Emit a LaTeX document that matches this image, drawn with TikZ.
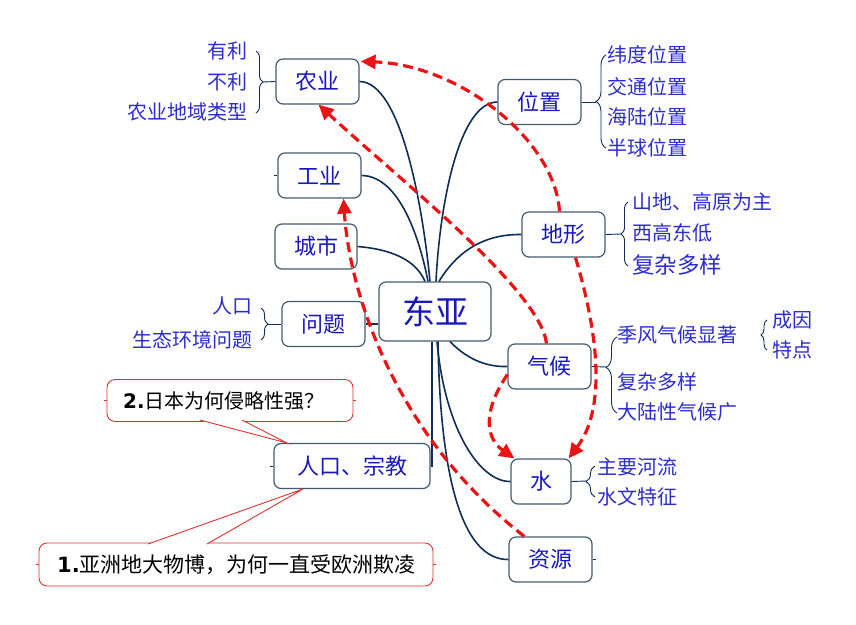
\documentclass[tikz,border=0pt]{standalone}
\usepackage{fontspec}
\setmainfont{Noto Sans CJK SC}
\newfontfamily\numfont{DejaVu Sans}
\usetikzlibrary{arrows.meta,decorations.pathreplacing}
\definecolor{nodeblue}{RGB}{25,25,185}
\definecolor{subblue}{RGB}{45,45,205}
\definecolor{boxline}{RGB}{70,90,110}
\definecolor{conn}{RGB}{15,45,85}
\definecolor{redd}{RGB}{235,20,20}
\definecolor{callred}{RGB}{220,50,50}
\tikzset{
  box/.style={draw=boxline, line width=1.2pt, rounded corners=7pt, fill=white, text=nodeblue,
    font=\fontsize{22}{22}\selectfont, inner sep=0pt, minimum height=45pt},
  sub/.style={text=subblue, font=\fontsize{20}{20}\selectfont, inner sep=0pt},
  subbig/.style={text=subblue, font=\fontsize{22.5}{22.5}\selectfont, inner sep=0pt},
  conn/.style={draw=conn, line width=1.6pt},
  bracel/.style={draw=conn, line width=0.9pt, decorate, decoration={brace, amplitude=#1}},
  tick/.style={draw=conn, line width=0.9pt},
  redarrow/.style={draw=redd, line width=3.2pt, dash pattern=on 10pt off 5.5pt,
    -{Triangle[length=15pt,width=14pt]}},
  callout/.style={draw=callred, line width=0.9pt, rounded corners=8pt, fill=white},
  calltext/.style={text=black, font=\fontsize{20}{20}\selectfont, inner sep=0pt, anchor=west},
}
\begin{document}
\begin{tikzpicture}[x=1pt,y=-1pt]
\useasboundingbox (0,0) rectangle (856,624);

% main nodes
\node[box, minimum width=83pt] (nongye) at (317.5,81.5) {农业};
\node[box, minimum width=83pt] (gongye) at (319.5,175.5) {工业};
\node[box, minimum width=82pt] (chengshi) at (316,246.5) {城市};
\node[box, minimum width=83pt] (wenti) at (323.5,324) {问题};
\node[box, minimum width=112pt, minimum height=59pt, font=\fontsize{33}{33}\selectfont] (dongya) at (435,311.5) {东亚};
\node[box, minimum width=156pt] (renkou) at (352,466) {人口、宗教};
\node[box, minimum width=83pt] (weizhi) at (539.5,102) {位置};
\node[box, minimum width=83pt] (dixing) at (563.5,234.5) {地形};
\node[box, minimum width=83pt] (qihou) at (549.5,366.5) {气候};
\node[box, minimum width=60pt] (shui) at (541,481.5) {水};
\node[box, minimum width=83pt] (ziyuan) at (550.5,559.5) {资源};

% connectors from 东亚
\draw[conn] (nongye.east) .. controls (400,82) and (422,200) .. ([xshift=-5pt]dongya.north);
\draw[conn] (gongye.east) .. controls (400,176) and (420,240) .. ([xshift=-7pt]dongya.north);
\draw[conn] (chengshi.east) .. controls (400,250) and (418,265) .. ([xshift=-10pt]dongya.north);
\draw[conn] (weizhi.west) .. controls (460,102) and (440,200) .. ([xshift=1pt]dongya.north);
\draw[conn] (dixing.west) .. controls (480,234) and (455,255) .. ([xshift=4pt]dongya.north);
\draw[conn] (wenti.east) -- (dongya.west |- wenti.east);
\draw[conn] ([xshift=15pt]dongya.south) .. controls (470,362) and (490,367) .. (qihou.west);
\draw[conn] ([xshift=2pt]dongya.south) .. controls (445,430) and (480,482) .. (shui.west);
\draw[conn] ([xshift=3pt]dongya.south) .. controls (440,470) and (460,560) .. (ziyuan.west);
\draw[conn] ([xshift=-3pt]dongya.south) -- ([xshift=-3pt]dongya.south |- renkou.east) -- (renkou.east);

% tiny ticks
\draw[tick] (gongye.west) -- ++(-3,0);
\draw[tick] (renkou.west) -- ++(-3,0);
\draw[tick] (ziyuan.east) -- ++(3,0);

% sub labels
\node[sub, anchor=east] (youli) at (248,51) {有利};
\node[sub, anchor=east] (buli) at (248,82) {不利};
\node[sub, anchor=east] (nydy) at (248,112) {农业地域类型};
\node[sub, anchor=east] (rk) at (253,306) {人口};
\node[sub, anchor=east] (sthj) at (253,340) {生态环境问题};
\node[sub, anchor=west] (w1) at (607,55) {纬度位置};
\node[sub, anchor=west] (w2) at (607,87) {交通位置};
\node[sub, anchor=west] (w3) at (607,117) {海陆位置};
\node[sub, anchor=west] (w4) at (607,148) {半球位置};
\node[sub, anchor=west] (d1) at (632,202) {山地、高原为主};
\node[sub, anchor=west] (d2) at (632,233) {西高东低};
\node[subbig, anchor=west] (d3) at (632,265) {复杂多样};
\node[sub, anchor=west] (q1) at (617,335) {季风气候显著};
\node[sub, anchor=west] (q2) at (617,382) {复杂多样};
\node[sub, anchor=west] (q3) at (617,412) {大陆性气候广};
\node[sub, anchor=west] (cy) at (772,320) {成因};
\node[sub, anchor=west] (td) at (772,350) {特点};
\node[sub, anchor=west] (s1) at (597,467) {主要河流};
\node[sub, anchor=west] (s2) at (597,497) {水文特征};

% braces
\draw[bracel=7pt] (256,51) -- (256,113);
\draw[conn, line width=0.9pt] (263,82) -- (nongye.west);
\draw[bracel=7pt] (261,308) -- (261,340);
\draw[conn, line width=0.9pt] (268,324) -- (wenti.west);
\draw[bracel=10pt] (606,148) -- (606,55);
\draw[conn, line width=0.9pt] (weizhi.east) -- (596,102);
\draw[bracel=7pt] (628,266) -- (628,202);
\draw[conn, line width=0.9pt] (dixing.east) -- (621,234);
\draw[draw=conn, line width=0.9pt, decorate, decoration={brace, amplitude=11pt, aspect=0.6}] (617,413) -- (617,337);
\draw[conn, line width=0.9pt] (qihou.east) -- (606,367);
\draw[bracel=6pt] (767,350) -- (767,320);
\draw[bracel=9pt] (595,497) -- (595,466);
\draw[conn, line width=0.9pt] (shui.east) -- (586,481);

% red dashed arrows
\draw[redarrow] ([xshift=-4pt]dixing.north) .. controls (555,140) and (460,65) .. ([xshift=1pt,yshift=-3pt]nongye.north east);
\draw[redarrow] ([xshift=-3pt]qihou.north) .. controls (540,290) and (400,180) .. ([xshift=1pt]nongye.south);
\draw[redarrow] ([xshift=12pt]dixing.south) .. controls (600,340) and (605,410) .. ([xshift=-3pt]shui.north east);
\draw[redarrow] ([yshift=-8pt]qihou.west) .. controls (480,415) and (488,440) .. ([xshift=4pt]shui.north west);
\draw[redarrow] ([xshift=16pt]ziyuan.north west) .. controls (400,440) and (350,300) .. ([xshift=24pt]gongye.south);

% callout 2
\node[callout, minimum width=246pt, minimum height=42pt, inner sep=0pt] (c2) at (230,400.5) {};
\coordinate (c2a) at (200,420);
\coordinate (c2b) at (242,420);
\coordinate (c2t) at (287,443);
\fill[white] (c2a) -- (c2t) -- (c2b) -- cycle;
\draw[callred, line width=0.9pt] (c2a) -- (c2t) -- (c2b);
\draw[callred, line width=0.9pt] (c2.west) -- ++(-3,0);
\draw[callred, line width=0.9pt] (c2.east) -- ++(3,0);
\node[calltext] (t2) at (123,401) {{\numfont\bfseries 2.}日本为何侵略性强？};

% callout 1
\node[callout, minimum width=394pt, minimum height=43pt, inner sep=0pt] (c1) at (236,564.5) {};
\coordinate (c1a) at (148,544);
\coordinate (c1b) at (207,544);
\coordinate (c1t) at (303,489);
\fill[white] (c1a) -- (c1t) -- (c1b) -- cycle;
\draw[callred, line width=0.9pt] (c1a) -- (c1t) -- (c1b);
\draw[callred, line width=0.9pt] (c1.west) -- ++(-3,0);
\draw[callred, line width=0.9pt] (c1.east) -- ++(3,0);
\node[calltext, font=\fontsize{21}{21}\selectfont] (t1) at (57,565) {{\numfont\bfseries 1.}亚洲地大物博，为何一直受欧洲欺凌};

\end{tikzpicture}
\end{document}
